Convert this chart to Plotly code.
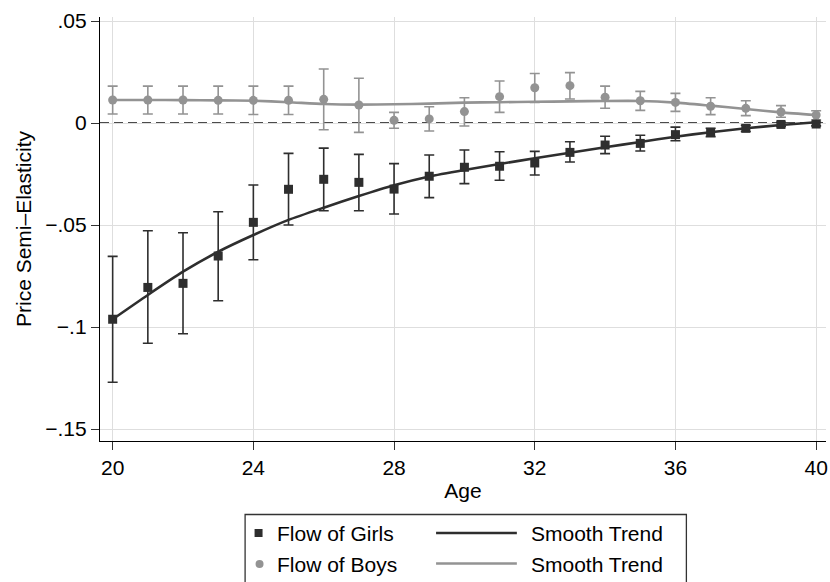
import plotly.graph_objects as go

# ---------------- data ----------------
ages = list(range(20, 41))

girls = [-0.0962, -0.0806, -0.0786, -0.0652, -0.0487, -0.0325, -0.0276, -0.0291, -0.0324, -0.0261,
         -0.0217, -0.0212, -0.0196, -0.0144, -0.0108, -0.0100, -0.0057, -0.0046, -0.0026, -0.0007, -0.0005]
girls_hi = [-0.0654, -0.0528, -0.0538, -0.0435, -0.0304, -0.0149, -0.0123, -0.0154, -0.0199, -0.0157,
            -0.0132, -0.0141, -0.0139, -0.0092, -0.0065, -0.0060, -0.0020, -0.0026, -0.0011, 0.0003, 0.0004]
girls_lo = [-0.1271, -0.1080, -0.1033, -0.0871, -0.0670, -0.0500, -0.0430, -0.0430, -0.0446, -0.0366,
            -0.0297, -0.0281, -0.0255, -0.0191, -0.0150, -0.0137, -0.0087, -0.0067, -0.0042, -0.0017, -0.0014]
girls_trend = [-0.0962, -0.0843, -0.0729, -0.0631, -0.0549, -0.0475, -0.0415, -0.0358, -0.0305, -0.0262,
               -0.0230, -0.0201, -0.0173, -0.0146, -0.0119, -0.0093, -0.0067, -0.0045, -0.0026, -0.0010, 0.0004]

boys = [0.0113, 0.0113, 0.0113, 0.0111, 0.0111, 0.0111, 0.0116, 0.0088, 0.0013, 0.0020,
        0.0056, 0.0129, 0.0173, 0.0183, 0.0126, 0.0109, 0.0101, 0.0082, 0.0072, 0.0054, 0.0039]
boys_hi = [0.0181, 0.0181, 0.0181, 0.0181, 0.0181, 0.0181, 0.0265, 0.0219, 0.0052, 0.0080,
           0.0124, 0.0206, 0.0243, 0.0247, 0.0181, 0.0155, 0.0145, 0.0124, 0.0109, 0.0085, 0.0060]
boys_lo = [0.0044, 0.0044, 0.0044, 0.0044, 0.0042, 0.0042, -0.0033, -0.0046, -0.0026, -0.0039,
           -0.0015, 0.0052, 0.0101, 0.0118, 0.0072, 0.0062, 0.0057, 0.0041, 0.0036, 0.0028, 0.0015]
boys_trend = [0.0113, 0.0113, 0.0112, 0.0111, 0.0109, 0.0102, 0.0093, 0.0090, 0.0092, 0.0095,
              0.0100, 0.0102, 0.0104, 0.0106, 0.0108, 0.0108, 0.0100, 0.0085, 0.0069, 0.0052, 0.0039]

xtick_vals = [20, 24, 28, 32, 36, 40]
ytick_vals = [-0.15, -0.10, -0.05, 0.0, 0.05]
ytick_text = ["\u2212.15", "\u2212.1", "\u2212.05", "0", ".05"]

legend_labels = ["Flow of Girls", "Flow of Boys", "Smooth Trend", "Smooth Trend"]

# ---------------- styles ----------------
DARK = "#2e2e2e"
GRAY = "#939393"
FONT = "Liberation Sans"
FS = 21

W, H = 830, 582
ML, MR, MT, MB = 100, 2, 17, 141
PW, PH = W - ML - MR, H - MT - MB


def px(x):
    return (x - ML) / PW


def py(y):
    return (H - MB - y) / PH


def err(vals, hi, lo):
    return dict(type="data", symmetric=False,
                array=[h - v for v, h in zip(vals, hi)],
                arrayminus=[v - l for v, l in zip(vals, lo)])


fig = go.Figure()

# boys
fig.add_trace(go.Scatter(x=ages, y=boys, mode="markers", showlegend=False,
                         marker=dict(symbol="circle", size=9, color=GRAY),
                         error_y=dict(**err(boys, boys_hi, boys_lo), color=GRAY, thickness=1.6, width=5)))
fig.add_trace(go.Scatter(x=ages, y=boys_trend, mode="lines", showlegend=False,
                         line=dict(color=GRAY, width=2.6, shape="spline", smoothing=0.6)))
# girls
fig.add_trace(go.Scatter(x=ages, y=girls, mode="markers", showlegend=False,
                         marker=dict(symbol="square", size=9, color=DARK),
                         error_y=dict(**err(girls, girls_hi, girls_lo), color=DARK, thickness=1.6, width=5)))
fig.add_trace(go.Scatter(x=ages, y=girls_trend, mode="lines", showlegend=False,
                         line=dict(color=DARK, width=2.6, shape="spline", smoothing=0.6)))

shapes = []
# dashed reference line at zero
shapes.append(dict(type="line", xref="paper", yref="y", x0=0, x1=1, y0=0, y1=0,
                   line=dict(color="#111111", width=1.7, dash="9px,5px"), layer="between"))

# legend (drawn in pixel positions converted to paper)
shapes.append(dict(type="rect", xref="paper", yref="paper",
                   x0=px(245.5), x1=px(688), y0=py(514.5), y1=py(590),
                   line=dict(color="#333333", width=1.3), fillcolor="white"))
shapes.append(dict(type="rect", xref="paper", yref="paper",
                   x0=px(255), x1=px(263), y0=py(529), y1=py(537),
                   line=dict(width=0), fillcolor=DARK))
shapes.append(dict(type="circle", xref="paper", yref="paper",
                   x0=px(256), x1=px(264), y0=py(560), y1=py(568),
                   line=dict(width=0), fillcolor=GRAY))
shapes.append(dict(type="line", xref="paper", yref="paper",
                   x0=px(437), x1=px(518), y0=py(533), y1=py(533),
                   line=dict(color=DARK, width=2.6)))
shapes.append(dict(type="line", xref="paper", yref="paper",
                   x0=px(437), x1=px(518), y0=py(563.5), y1=py(563.5),
                   line=dict(color=GRAY, width=2.6)))

annotations = []
for (lx, ly), txt in zip([(275, 533), (275, 564), (530, 533), (530, 564)], legend_labels):
    annotations.append(dict(x=px(lx), y=py(ly), xref="paper", yref="paper", text=txt,
                            showarrow=False, xanchor="left", yanchor="middle",
                            font=dict(family=FONT, size=FS, color="black")))

fig.update_layout(
    width=W, height=H,
    margin=dict(l=ML, r=MR, t=MT, b=MB, pad=0),
    paper_bgcolor="white", plot_bgcolor="white",
    font=dict(family=FONT, size=FS, color="black"),
    shapes=shapes, annotations=annotations,
    showlegend=False,
)
fig.update_xaxes(range=[19.64, 40.28], tickvals=xtick_vals, ticks="outside", ticklen=8,
                 tickcolor="#333333", tickwidth=1.3,
                 showgrid=True, gridcolor="#dedede", gridwidth=1.4, zeroline=False,
                 showline=True, linecolor="black", linewidth=1.3,
                 title=dict(text="Age", font=dict(size=FS), standoff=4),
                 tickfont=dict(size=FS))
fig.update_yaxes(range=[-0.15588, 0.05196], tickvals=ytick_vals, ticktext=ytick_text,
                 ticks="outside", ticklen=8, tickcolor="#333333", tickwidth=1.3,
                 showgrid=True, gridcolor="#dedede", gridwidth=1.4, zeroline=False,
                 showline=True, linecolor="black", linewidth=1.3,
                 title=dict(text="Price Semi\u2013Elasticity", font=dict(size=FS), standoff=7),
                 tickfont=dict(size=FS))

fig.write_html("out.html")
